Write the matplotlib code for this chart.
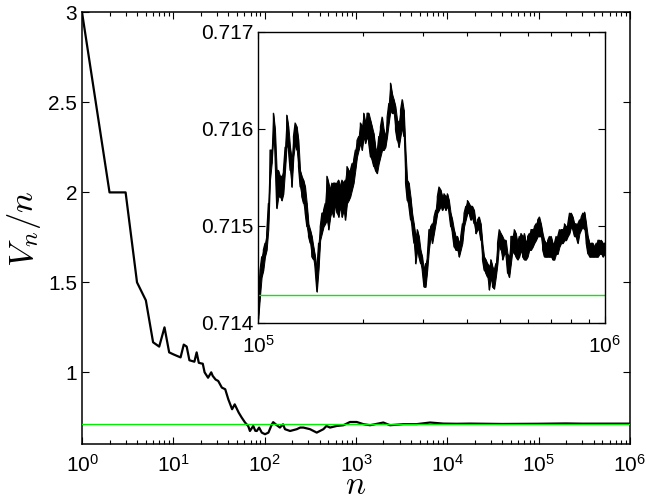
import numpy as np
import matplotlib
matplotlib.use('Agg')
import matplotlib.pyplot as plt
from matplotlib.ticker import LogLocator, NullFormatter

plt.rcParams['font.family'] = ['Liberation Sans', 'DejaVu Sans']
plt.rcParams['mathtext.fontset'] = 'custom'
plt.rcParams['mathtext.rm'] = 'Liberation Sans'
plt.rcParams['mathtext.it'] = 'Liberation Sans:italic'
plt.rcParams['xtick.direction'] = 'in'
plt.rcParams['ytick.direction'] = 'in'

# main curve V_n/n
n_main = [1, 2, 3, 4, 5, 6, 7, 8, 9, 10, 11, 12, 13, 14, 15, 16, 17, 18, 19, 20,
          21, 22, 24, 26, 27, 29, 31, 34, 37, 40, 44, 47, 52, 56, 61, 66, 69, 75,
          79, 82, 87, 93, 101, 110, 120, 124, 136, 147, 159, 167, 190, 225, 245,
          266, 314, 372, 440, 476, 520, 616, 728, 861, 1020, 1205, 1426, 1995,
          2362, 3305, 4630, 6480, 9060, 12700, 17800, 40000, 100000, 200000,
          300000, 1000000]
v_main = [3.0, 2.0, 2.0, 1.5, 1.4, 1.167, 1.143, 1.25, 1.111, 1.1, 1.091, 1.083,
          1.154, 1.143, 1.067, 1.063, 1.059, 1.111, 1.053, 1.05, 1.048, 1.0, 0.97,
          1.0, 0.98, 0.96, 0.952, 0.915, 0.906, 0.85, 0.795, 0.822, 0.776, 0.749,
          0.721, 0.702, 0.674, 0.702, 0.675, 0.674, 0.693, 0.665, 0.656, 0.665,
          0.711, 0.723, 0.706, 0.693, 0.711, 0.684, 0.674, 0.684, 0.693, 0.693,
          0.684, 0.665, 0.684, 0.702, 0.693, 0.702, 0.706, 0.724, 0.724, 0.712,
          0.706, 0.721, 0.706, 0.712, 0.712, 0.721, 0.715, 0.714, 0.715, 0.713,
          0.7141, 0.7158, 0.7146, 0.7148]

limit = 5 / 7

# inset: upper and lower edge of the noisy trace, 1e5 .. 1e6
inset_hi = [
    0.71441, 0.71454, 0.71468, 0.71475, 0.71482, 0.71492, 0.71523, 0.71578, 0.71578, 0.71616,
    0.71599, 0.71557, 0.71557, 0.71551, 0.71551, 0.71557, 0.71581, 0.71614, 0.71602, 0.71581,
    0.71568, 0.71592, 0.71606, 0.71602, 0.71588, 0.71557, 0.71551, 0.71547, 0.71540, 0.71523,
    0.71502, 0.71496, 0.71489, 0.71478, 0.71468, 0.71454, 0.71482, 0.71499, 0.71513, 0.71516,
    0.71523, 0.71551, 0.71544, 0.71537, 0.71544, 0.71544, 0.71544, 0.71544, 0.71547, 0.71540,
    0.71547, 0.71544, 0.71547,
    0.71561, 0.71557, 0.71557, 0.71564, 0.71568, 0.71578, 0.71588, 0.71592, 0.71606, 0.71602,
    0.71616, 0.71606, 0.71616, 0.71616, 0.71609, 0.71602, 0.71595, 0.71581, 0.71575, 0.71592,
    0.71602, 0.71612, 0.71599, 0.71592, 0.71612, 0.71626, 0.71647, 0.71636, 0.71630, 0.71623,
    0.71609, 0.71606, 0.71619, 0.71630, 0.71619, 0.71578, 0.71547, 0.71544, 0.71530, 0.71513,
    0.71502, 0.71489, 0.71496, 0.71489, 0.71475, 0.71468, 0.71454,
    0.71461, 0.71468, 0.71496, 0.71499, 0.71502, 0.71509, 0.71516, 0.71530, 0.71540, 0.71537,
    0.71530, 0.71533, 0.71530, 0.71533, 0.71526, 0.71513, 0.71506, 0.71496, 0.71489, 0.71489,
    0.71482, 0.71489, 0.71502, 0.71513, 0.71520, 0.71526, 0.71523, 0.71520, 0.71520, 0.71516,
    0.71502, 0.71506, 0.71509, 0.71502, 0.71482, 0.71468, 0.71465, 0.71461, 0.71458, 0.71465,
    0.71458, 0.71454, 0.71461, 0.71482, 0.71496, 0.71492, 0.71489, 0.71485, 0.71485, 0.71471,
    0.71468,
    0.71489, 0.71489, 0.71496, 0.71492, 0.71482, 0.71489, 0.71492, 0.71489, 0.71492, 0.71482,
    0.71489, 0.71492, 0.71496, 0.71496, 0.71499, 0.71502, 0.71506, 0.71509, 0.71502, 0.71492,
    0.71485, 0.71482, 0.71485, 0.71489, 0.71489, 0.71482, 0.71482, 0.71489, 0.71489, 0.71496,
    0.71496, 0.71496, 0.71502, 0.71499, 0.71502, 0.71513, 0.71513, 0.71509, 0.71502, 0.71502,
    0.71502, 0.71506, 0.71509, 0.71513, 0.71514, 0.71502, 0.71489, 0.71482, 0.71482, 0.71482,
    0.71478, 0.71482, 0.71485, 0.71485, 0.71485, 0.71482, 0.71482]
inset_lo = [
    0.71404, 0.71427, 0.71447, 0.71454, 0.71468, 0.71475, 0.71496, 0.71547, 0.71564, 0.71592,
    0.71571, 0.71518, 0.71530, 0.71530, 0.71526, 0.71533, 0.71557, 0.71585, 0.71578, 0.71557,
    0.71540, 0.71571, 0.71585, 0.71578, 0.71561, 0.71540, 0.71530, 0.71523, 0.71513, 0.71499,
    0.71489, 0.71482, 0.71468, 0.71465, 0.71454, 0.71432, 0.71454, 0.71485, 0.71492, 0.71499,
    0.71502, 0.71506, 0.71496, 0.71509, 0.71516, 0.71509, 0.71523, 0.71513, 0.71509, 0.71520,
    0.71509, 0.71516, 0.71506,
    0.71523, 0.71526, 0.71530, 0.71537, 0.71544, 0.71557, 0.71571, 0.71578, 0.71585, 0.71578,
    0.71592, 0.71585, 0.71592, 0.71585, 0.71571, 0.71568, 0.71561, 0.71557, 0.71554, 0.71564,
    0.71571, 0.71578, 0.71578, 0.71581, 0.71592, 0.71606, 0.71619, 0.71616, 0.71616, 0.71599,
    0.71588, 0.71581, 0.71592, 0.71602, 0.71592, 0.71544, 0.71526, 0.71520, 0.71506, 0.71496,
    0.71482, 0.71461, 0.71475, 0.71468, 0.71461, 0.71454, 0.71437,
    0.71437, 0.71454, 0.71475, 0.71489, 0.71482, 0.71492, 0.71502, 0.71513, 0.71516, 0.71520,
    0.71516, 0.71520, 0.71516, 0.71520, 0.71513, 0.71499, 0.71492, 0.71478, 0.71475, 0.71475,
    0.71468, 0.71475, 0.71482, 0.71499, 0.71506, 0.71513, 0.71513, 0.71506, 0.71509, 0.71502,
    0.71492, 0.71496, 0.71496, 0.71485, 0.71465, 0.71454, 0.71451, 0.71447, 0.71434, 0.71447,
    0.71437, 0.71435, 0.71447, 0.71461, 0.71482, 0.71475, 0.71465, 0.71471, 0.71471, 0.71451,
    0.71447,
    0.71461, 0.71475, 0.71471, 0.71468, 0.71465, 0.71468, 0.71475, 0.71468, 0.71465, 0.71465,
    0.71468, 0.71475, 0.71475, 0.71478, 0.71482, 0.71485, 0.71489, 0.71489, 0.71489, 0.71475,
    0.71468, 0.71468, 0.71468, 0.71468, 0.71468, 0.71465, 0.71465, 0.71471, 0.71471, 0.71478,
    0.71482, 0.71482, 0.71485, 0.71485, 0.71489, 0.71492, 0.71499, 0.71496, 0.71489, 0.71489,
    0.71482, 0.71492, 0.71496, 0.71499, 0.71496, 0.71482, 0.71471, 0.71468, 0.71468, 0.71468,
    0.71468, 0.71468, 0.71468, 0.71471, 0.71471, 0.71468, 0.71471]

inset_yticks = [0.714, 0.715, 0.716, 0.717]
main_yticks = [1, 1.5, 2, 2.5, 3]

fig = plt.figure(figsize=(6.46, 5.03), dpi=100)
ax = fig.add_axes([0.127, 0.1167, 0.848, 0.8585])
ax.semilogx(n_main, v_main, color='black', lw=1.6, zorder=2)
ax.axhline(limit, color='#00ee00', lw=1.0, zorder=3)
ax.set_xlim(1, 1e6)
ax.set_ylim(0.6, 3)
ax.set_yticks(main_yticks)
ax.set_yticklabels(['1', '1.5', '2', '2.5', '3'])
ax.xaxis.set_major_locator(LogLocator(base=10, numticks=10))
ax.xaxis.set_minor_locator(LogLocator(base=10, subs=np.arange(2, 10), numticks=20))
ax.xaxis.set_minor_formatter(NullFormatter())
ax.tick_params(which='both', top=True, right=True, labelsize=15, width=0.8)
ax.tick_params(which='major', length=5)
ax.tick_params(which='minor', length=3)
ax.tick_params(axis='x', pad=7)
for s in ax.spines.values():
    s.set_linewidth(1.1)
ax.set_xlabel('$n$', fontsize=24, math_fontfamily='cm', labelpad=-4)
ax.set_ylabel('$V_n/n$', fontsize=25, math_fontfamily='cm', labelpad=4)

# inset
ins = fig.add_axes([0.3998, 0.3584, 0.536, 0.5786])
x_in = np.logspace(5, 6, len(inset_hi))
ins.fill_between(x_in, inset_lo, inset_hi, color='black', lw=0.7)
xs = np.repeat(x_in, 2)
ys = []
for i in range(len(inset_hi)):
    if i % 2 == 0:
        ys += [inset_hi[i], inset_lo[i]]
    else:
        ys += [inset_lo[i], inset_hi[i]]
ins.semilogx(xs, ys, color='black', lw=0.8)
ins.axhline(limit, color='#00ee00', lw=1.0)
ins.set_xlim(1e5, 1e6)
ins.set_ylim(0.714, 0.717)
ins.set_yticks(inset_yticks)
ins.set_yticklabels(['0.714', '0.715', '0.716', '0.717'])
ins.xaxis.set_minor_formatter(NullFormatter())
ins.tick_params(which='both', top=True, right=True, labelsize=15, width=0.8)
ins.tick_params(which='major', length=5)
ins.tick_params(which='minor', length=3)
ins.tick_params(axis='x', pad=9)
for s in ins.spines.values():
    s.set_linewidth(1.0)

fig.savefig('out.png', dpi=100)
